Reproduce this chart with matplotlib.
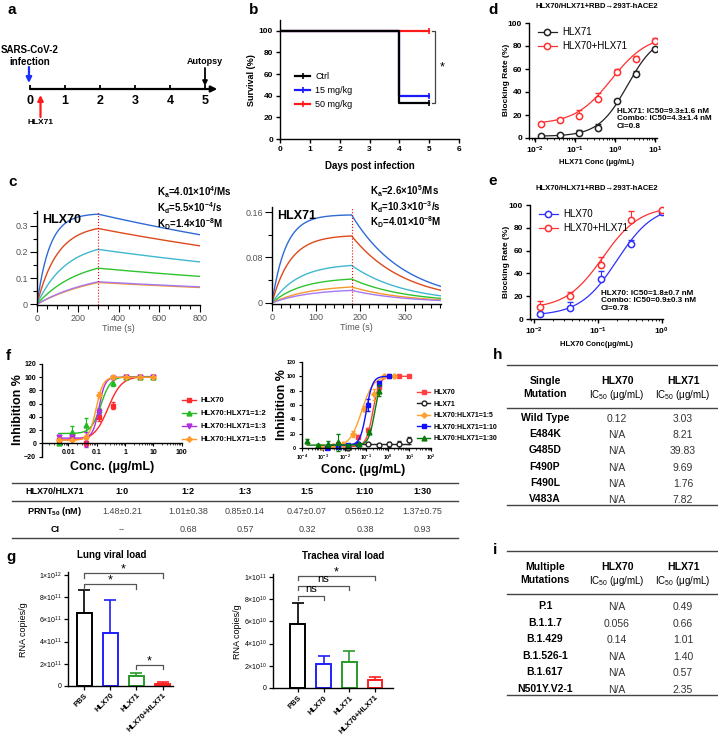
import numpy as np
import matplotlib
matplotlib.use('Agg')
import matplotlib.pyplot as plt
from matplotlib.lines import Line2D
from matplotlib.ticker import FixedLocator, MultipleLocator, LogLocator, NullFormatter, FuncFormatter

plt.rcParams['font.family'] = ['Liberation Sans', 'DejaVu Sans']
plt.rcParams['mathtext.fontset'] = 'custom'
plt.rcParams['mathtext.rm'] = 'Liberation Sans'
plt.rcParams['mathtext.bf'] = 'Liberation Sans:bold'
plt.rcParams['mathtext.it'] = 'Liberation Sans:italic'
plt.rcParams['mathtext.default'] = 'regular'
plt.rcParams['axes.linewidth'] = 1.0

# ---------------- data ----------------
# a: timeline
timeline_days = [0, 1, 2, 3, 4, 5]

# b: survival
surv_days = [0, 4, 5]
surv_ctrl = [100, 33.3, 33.3]
surv_15 = [100, 40, 40]
surv_50 = [100, 100, 100]

# c: sensorgrams (response at end of association, observed on-rate, off-rate)
c_colors = ['#2f6bd6', '#dc4a1c', '#3fb8cf', '#2fc42f', '#f59a2a', '#a678f0']
c70_peak = [0.345, 0.290, 0.210, 0.138, 0.083, 0.086]
c70_kobs = [0.016, 0.010, 0.007, 0.005, 0.0032, 0.0034]
c70_koff = 5.2e-4
c71_peak = [0.155, 0.118, 0.066, 0.042, 0.028, 0.022]
c71_kobs = [0.032, 0.024, 0.017, 0.015, 0.012, 0.012]
c71_koff = 8.3e-3
c70_text = [r'K$_\mathbf{a}$=4.01×10$^\mathbf{4}$/Ms', r'K$_\mathbf{d}$=5.5×10$^\mathbf{-4}$/s',
            r'K$_\mathbf{D}$=1.4×10$^\mathbf{-8}$M']
c71_text = [r'K$_\mathbf{a}$=2.6×10$^\mathbf{5}$/Ms', r'K$_\mathbf{d}$=10.3×10$^\mathbf{-3}$/s',
            r'K$_\mathbf{D}$=4.01×10$^\mathbf{-8}$M']

# d: blocking, HLX71 titration
d_conc = [0.0137, 0.041, 0.123, 0.37, 1.11, 3.33, 10]
d_hlx71 = [2, 2.5, 4, 8.5, 32, 56, 77]
d_hlx71_err = [1, 1, 3, 4, 2, 2, 1]
d_combo = [12, 16, 19, 34, 57, 69, 84]
d_combo_err = [1, 1, 5, 5, 3, 2, 3]
d_fit_hlx71 = (1.5, 90, 2.0, 1.2)   # bottom, top, IC50, hill
d_fit_combo = (12, 90, 0.8, 0.95)

# e: blocking, HLX70 titration
e_conc = [0.0123, 0.037, 0.111, 0.333, 1.0]
e_hlx70 = [4, 9.5, 35, 66, 94]
e_hlx70_err = [2, 5, 7, 3, 2]
e_combo = [10.5, 20, 47, 86.5, 95.5]
e_combo_err = [5, 4, 7, 8, 1]
e_fit_hlx70 = (3, 100, 0.2, 1.5)
e_fit_combo = (9, 99, 0.12, 1.5)

# f left: neutralisation
fl_conc = [0.0046, 0.0137, 0.041, 0.123, 0.37, 1.11, 3.33, 10]
fl_hlx70 = [5, 12, 0, 40, 57, 100, 100, 100]
fl_hlx70_err = [3, 3, 4, 6, 5, 1, 1, 1]
fl_r12 = [0, 18, 28, 50, 92, 100, 100, 100]
fl_r12_err = [1, 9, 10, 4, 5, 2, 1, 1]
fl_r13 = [10, 10, 6, 48, 99, 100, 100, 100]
fl_r13_err = [2, 2, 12, 4, 2, 1, 1, 1]
fl_r15 = [5, 5, 10, 73, 100, 100, 100, 100]
fl_r15_err = [2, 2, 3, 4, 1, 1, 1, 1]
fl_fits = [(5, 101, 0.25, 1.8), (15, 101, 0.14, 2.5), (8, 100, 0.12, 4.0), (5, 100, 0.095, 3.5)]

# f right
fr_conc_70 = [0.0046, 0.0137, 0.041, 0.123, 0.37, 1.11, 3.33, 10]
fr_hlx70 = [5, 2, 15, 25, 85, 100, 100, 100]
fr_hlx70_err = [2, 2, 3, 3, 4, 1, 1, 1]
fr_conc_71 = [0.0137, 0.041, 0.123, 0.37, 1.11, 3.33, 10]
fr_hlx71 = [0, 5, 5, 4, 5, 5, 11]
fr_hlx71_err = [1, 1, 1, 2, 3, 5, 5]
fr_hlx71_level = 5
fr_conc_15 = [0.00091, 0.0027, 0.0082, 0.025, 0.074, 0.22, 0.67, 2.0]
fr_r15 = [2, 3, 5, 20, 55, 75, 100, 100]
fr_r15_err = [1, 2, 2, 4, 4, 8, 1, 1]
fr_conc_110 = [0.0015, 0.0046, 0.0137, 0.041, 0.123, 0.37, 1.11]
fr_r110 = [0, 2, 4, 5, 60, 90, 100]
fr_r110_err = [1, 2, 2, 2, 8, 3, 1]
fr_conc_130 = [0.00018, 0.00055, 0.0017, 0.0049, 0.0148, 0.044, 0.13, 0.40]
fr_r130 = [10, 4, 6, 8, 3, 5, 22, 80]
fr_r130_err = [3, 2, 4, 12, 2, 2, 3, 8]
fr_fits = {'70': (2, 100, 0.2, 2.8), '15': (2, 100, 0.06, 1.6),
           '110': (4, 100, 0.1, 3.0), '130': (4, 100, 0.25, 3.0)}

# f table
f_ratio = ['1:0', '1:2', '1:3', '1:5', '1:10', '1:30']
f_prnt = ['1.48±0.21', '1.01±0.38', '0.85±0.14', '0.47±0.07', '0.56±0.12', '1.37±0.75']
f_ci = ['--', '0.68', '0.57', '0.32', '0.38', '0.93']

# g: viral load
g_groups = ['PBS', 'HLX70', 'HLX71', 'HLX70+HLX71']
g_colors = ['black', '#1f1fff', '#2a9a2a', '#ff2020']
lung_mean = [6.6e11, 4.75e11, 0.9e11, 0.18e11]
lung_err = [2.1e11, 3.05e11, 0.25e11, 0.12e11]
lung_sig = [(0, 2, 9.2e11, '*'), (0, 3, 1.02e12, '*'), (2, 3, 1.88e11, '*')]
trachea_mean = [5.75e10, 2.2e10, 2.3e10, 0.7e10]
trachea_err = [1.9e10, 0.7e10, 1.0e10, 0.25e10]
trachea_sig = [(0, 1, 8.3e10, 'ns'), (0, 2, 9.2e10, 'ns'), (0, 3, 1.01e11, '*')]

# h / i tables
h_mut = ['Wild Type', 'E484K', 'G485D', 'F490P', 'F490L', 'V483A']
h_70 = ['0.12', 'N/A', 'N/A', 'N/A', 'N/A', 'N/A']
h_71 = ['3.03', '8.21', '39.83', '9.69', '1.76', '7.82']
i_mut = ['P.1', 'B.1.1.7', 'B.1.429', 'B.1.526-1', 'B.1.617', 'N501Y.V2-1']
i_70 = ['N/A', '0.056', '0.14', 'N/A', 'N/A', 'N/A']
i_71 = ['0.49', '0.66', '1.01', '1.40', '0.57', '2.35']

# ---------------- helpers ----------------
W, H = 718, 742
fig = plt.figure(figsize=(W / 100, H / 100), dpi=100)


def box(l, t, r, b):
    return [l / W, 1 - b / H, (r - l) / W, (b - t) / H]


def ftext(x, y, s, **kw):
    kw.setdefault('ha', 'center')
    kw.setdefault('va', 'center')
    fig.text(x / W, 1 - y / H, s, **kw)


def hline(x0, x1, y, lw=1.0, color='#444444'):
    fig.add_artist(Line2D([x0 / W, x1 / W], [1 - y / H, 1 - y / H], color=color, lw=lw))


def fourpl(x, p):
    bottom, top, ic50, hill = p
    x = np.asarray(x, float)
    return bottom + (top - bottom) / (1 + (ic50 / x) ** hill)


def sensor(t, t_end, peak, kobs, koff):
    assoc = peak * (1 - np.exp(-kobs * t)) / (1 - np.exp(-kobs * t_end))
    dis = peak * np.exp(-koff * (t - t_end))
    return np.where(t <= t_end, assoc, dis)


def clean(ax):
    ax.spines['top'].set_visible(False)
    ax.spines['right'].set_visible(False)


def bold_ticks(ax, size):
    for lab in ax.get_xticklabels() + ax.get_yticklabels():
        lab.set_fontweight('bold')
        lab.set_fontsize(size)


# ---------------- panel letters ----------------
for letter, x, y in [('a', 8, 10), ('b', 249, 10), ('d', 488, 10), ('c', 8, 182),
                     ('e', 488, 181), ('f', 6, 356), ('h', 493, 355), ('g', 6, 557), ('i', 493, 550)]:
    ftext(x, y, letter, fontsize=11, fontweight='bold', ha='left')

# ---------------- a ----------------
ax_a = fig.add_axes(box(0, 0, 240, 140))
ax_a.set_xlim(-30 / 35, 210 / 35)
ax_a.set_ylim(140, 0)
ax_a.axis('off')
ax_a.annotate('', xy=(5.35, 89), xytext=(0, 89),
              arrowprops=dict(arrowstyle='-|>', lw=1.6, color='k', mutation_scale=9, shrinkA=0, shrinkB=0))
ax_a.vlines(timeline_days, 84.5, 89, color='k', lw=1.3)
for d in timeline_days:
    ax_a.text(d, 101, str(d), ha='center', va='center', fontsize=9, fontweight='bold')
ax_a.text(0, 56, 'SARS-CoV-2\ninfection', ha='center', va='center', fontsize=7, fontweight='bold', linespacing=1.2)
ax_a.annotate('', xy=(-0.03, 83), xytext=(-0.03, 67),
              arrowprops=dict(arrowstyle='-|>', lw=1.6, color='#1a2fff', mutation_scale=8, shrinkA=0, shrinkB=0))
ax_a.annotate('', xy=(0.3, 95), xytext=(0.3, 117),
              arrowprops=dict(arrowstyle='-|>', lw=1.6, color='#ff1a1a', mutation_scale=8, shrinkA=0, shrinkB=0))
ax_a.text(0.3, 122, 'HLX71', ha='center', va='center', fontsize=6, fontweight='bold')
ax_a.text(5, 62, 'Autopsy', ha='center', va='center', fontsize=6.5, fontweight='bold')
ax_a.annotate('', xy=(5, 86), xytext=(5, 68),
              arrowprops=dict(arrowstyle='-|>', lw=1.3, color='k', mutation_scale=7, shrinkA=0, shrinkB=0))

# ---------------- b ----------------
ax_b = fig.add_axes(box(280, 20, 459, 139))
hb = {}
for vals, col, lab in [(surv_50, '#ff1a1a', '50 mg/kg'), (surv_15, '#1a1aff', '15 mg/kg'),
                       (surv_ctrl, 'black', 'Ctrl')]:
    hb[lab], = ax_b.step(surv_days, vals, where='post', color=col, lw=1.6, marker='|',
                         markevery=[2], ms=5, mew=1.2, label=lab)
ax_b.set_xlim(0, 6)
ax_b.set_ylim(0, 110)
ax_b.set_yticks(range(0, 101, 20))
ax_b.set_xticks(range(0, 7))
clean(ax_b)
ax_b.tick_params(length=3, width=1, pad=2)
bold_ticks(ax_b, 6)
ax_b.legend([hb['Ctrl'], hb['15 mg/kg'], hb['50 mg/kg']], ['Ctrl', '15 mg/kg', '50 mg/kg'],
            loc='upper left', bbox_to_anchor=(0.04, 0.63), frameon=False, fontsize=6.5,
            handlelength=1.6, numpoints=1, labelspacing=0.55, handletextpad=0.6)
ax_b.plot([5.1, 5.2, 5.2, 5.1], [100, 100, 33.3, 33.3], color='#444444', lw=0.9, clip_on=False)
ax_b.text(5.45, 66, '*', ha='center', va='center', fontsize=9)
ftext(251, 80, 'Survival (%)', rotation=90, fontsize=6.5, fontweight='bold')
ftext(370, 166, 'Days post infection', fontsize=7, fontweight='bold')

# ---------------- c ----------------
def sensor_axes(rect, t_max, t_end, peaks, kobs, koff, ylim, ymaj, ymin, xmaj, xmin):
    ax = fig.add_axes(rect)
    t = np.linspace(0, t_max, 801)
    for pk, k, col in zip(peaks, kobs, c_colors):
        ax.plot(t, sensor(t, t_end, pk, k, koff), color=col, lw=1.0)
    ax.axvline(t_end, color='red', ls=':', lw=0.8)
    ax.set_xlim(0, t_max)
    ax.set_ylim(*ylim)
    ax.yaxis.set_major_locator(MultipleLocator(ymaj))
    ax.yaxis.set_minor_locator(MultipleLocator(ymin))
    ax.xaxis.set_major_locator(MultipleLocator(xmaj))
    ax.xaxis.set_minor_locator(MultipleLocator(xmin))
    clean(ax)
    ax.tick_params(which='major', length=5, width=0.8, labelsize=6.5, labelcolor='#555555', pad=1.5)
    ax.tick_params(which='minor', length=3, width=0.8)
    ax.set_xlabel('Time (s)', fontsize=6.5, color='#555555', labelpad=1)
    return ax


ax_c1 = sensor_axes(box(37, 211, 200, 305), 800, 300, c70_peak, c70_kobs, c70_koff,
                    (-0.003, 0.357), 0.1, 0.05, 200, 50)
ax_c1.yaxis.set_major_formatter(FuncFormatter(lambda v, p: '0' if abs(v) < 1e-9 else f'{v:.1f}'))
ax_c1.text(0.03, 0.97, 'HLX70', transform=ax_c1.transAxes, ha='left', va='top', fontsize=9, fontweight='bold')
ax_c2 = sensor_axes(box(272, 207, 441, 304), 382, 180, c71_peak, c71_kobs, c71_koff,
                    (-0.002, 0.169), 0.08, 0.04, 100, 20)
ax_c2.yaxis.set_major_formatter(FuncFormatter(lambda v, p: '0' if abs(v) < 1e-9 else f'{v:.2f}'))
ax_c2.text(0.03, 0.97, 'HLX71', transform=ax_c2.transAxes, ha='left', va='top', fontsize=9, fontweight='bold')

ftext(157, 208, '\n'.join(c70_text), ha='left', fontsize=7, fontweight='bold', linespacing=1.05)
ftext(370, 207, '\n'.join(c71_text), ha='left', fontsize=7, fontweight='bold', linespacing=1.0)

# ---------------- d / e ----------------
def pow10(v, p):
    return r'$\mathbf{10^{%d}}$' % int(round(np.log10(v)))


def block_axes(rect, xlim, conc, ys, errs, fits, cols, labels):
    ax = fig.add_axes(rect)
    xs = np.logspace(np.log10(conc[0]), np.log10(conc[-1]), 200)
    handles = []
    for y, e, p, c in zip(ys, errs, fits, cols):
        ax.plot(xs, fourpl(xs, p), color=c, lw=0.9)
        ax.errorbar(conc, y, yerr=[np.zeros(len(e)), e], fmt='none', ecolor=c, elinewidth=0.8, capsize=2)
        ax.plot(conc, y, 'o', mfc='white', mec=c, mew=1.1, ms=4.5)
        handles.append(Line2D([], [], color=c, lw=0.9, marker='o', mfc='white', mec=c, mew=1.1, ms=4.5))
    ax.set_xscale('log')
    ax.set_xlim(*xlim)
    ax.set_ylim(0, 100)
    ax.set_yticks(range(0, 101, 20))
    ax.xaxis.set_major_locator(LogLocator(base=10, numticks=10))
    ax.xaxis.set_major_formatter(FuncFormatter(pow10))
    ax.xaxis.set_minor_locator(LogLocator(base=10, subs=np.arange(2, 10), numticks=20))
    ax.xaxis.set_minor_formatter(NullFormatter())
    clean(ax)
    ax.tick_params(which='major', length=3, width=1, pad=2)
    ax.tick_params(which='minor', length=1.5, width=0.6)
    bold_ticks(ax, 6)
    ax.legend(handles, labels, loc='upper left', bbox_to_anchor=(0.0, 1.04), frameon=False,
              fontsize=7, handlelength=2.0, labelspacing=0.4, handletextpad=0.5)
    return ax


ax_d = block_axes(box(529, 23, 657, 138), (10 ** -2.16, 10 ** 1.04), d_conc, [d_hlx71, d_combo],
                  [d_hlx71_err, d_combo_err], [d_fit_hlx71, d_fit_combo], ['#222222', '#ff3030'],
                  ['HLX71', 'HLX70+HLX71'])
ftext(597, 7, 'HLX70/HLX71+RBD→293T-hACE2', fontsize=5.5, fontweight='bold')
ftext(507, 80, 'Blocking Rate (%)', rotation=90, fontsize=6, fontweight='bold')
ftext(597, 163, 'HLX71 Conc (μg/mL)', fontsize=5.5, fontweight='bold')
ftext(617, 119, 'HLX71: IC50=9.3±1.6 nM\nCombo: IC50=4.3±1.4 nM\nCI=0.8', ha='left', fontsize=5.8,
      fontweight='bold', linespacing=1.1)

ax_e = block_axes(box(530, 205, 663, 319), (10 ** -2.06, 10 ** 0.02), e_conc, [e_hlx70, e_combo],
                  [e_hlx70_err, e_combo_err], [e_fit_hlx70, e_fit_combo], ['#3030ff', '#ff3030'],
                  ['HLX70', 'HLX70+HLX71'])
ftext(597, 188, 'HLX70/HLX71+RBD→293T-hACE2', fontsize=5.5, fontweight='bold')
ftext(507, 262, 'Blocking Rate (%)', rotation=90, fontsize=6, fontweight='bold')
ftext(597, 344, 'HLX70 Conc(μg/mL)', fontsize=5.5, fontweight='bold')
ftext(601, 301, 'HLX70: IC50=1.8±0.7 nM\nCombo: IC50=0.9±0.3 nM\nCI=0.78', ha='left', fontsize=5.8,
      fontweight='bold', linespacing=1.1)

# ---------------- f ----------------
def neut_axes(rect, xlim, ylow):
    ax = fig.add_axes(rect)
    ax.set_xscale('log')
    ax.set_xlim(*xlim)
    ax.set_ylim(ylow, 120)
    ax.set_yticks(range(ylow, 121, 20))
    ax.spines['bottom'].set_position(('data', 0))
    clean(ax)
    ax.xaxis.set_minor_locator(LogLocator(base=10, subs=np.arange(2, 10), numticks=30))
    ax.xaxis.set_minor_formatter(NullFormatter())
    ax.tick_params(which='major', length=2.5, width=0.8, pad=1.5)
    ax.tick_params(which='minor', length=1.5, width=0.5)
    return ax


def neut_series(ax, conc, y, err, fit, col, marker, mfc=None):
    handle = Line2D([], [], color=col, lw=1.0, marker=marker, ms=3.5, mfc=mfc or col, mec=col)
    if fit is not None:
        xs = np.logspace(np.log10(conc[0]), np.log10(conc[-1]), 200)
        ax.plot(xs, fourpl(xs, fit), color=col, lw=1.0)
    ax.errorbar(conc, y, yerr=err, fmt='none', ecolor=col, elinewidth=0.8, capsize=1.5, clip_on=False)
    ax.plot(conc, y, ls='none', marker=marker, ms=3.5, mfc=mfc or col, mec=col, clip_on=False)
    return handle


ax_fl = neut_axes(box(41.7, 364, 181.7, 456.7), (10 ** -2.94, 100), -20)
ax_fl.xaxis.set_major_locator(FixedLocator([0.01, 0.1, 1, 10, 100]))
ax_fl.set_xticklabels(['0.01', '0.1', '1', '10', '100'])
fl_series = [(fl_hlx70, fl_hlx70_err, '#ff2a2a', 's', 'HLX70'),
             (fl_r12, fl_r12_err, '#22bb22', '^', 'HLX70:HLX71=1:2'),
             (fl_r13, fl_r13_err, '#b030e0', 'v', 'HLX70:HLX71=1:3'),
             (fl_r15, fl_r15_err, '#ff9a2a', 'P', 'HLX70:HLX71=1:5')]
hl = []
for (y, e, c, m, lab), fit in zip(fl_series, fl_fits):
    hl.append(neut_series(ax_fl, fl_conc, y, e, fit, c, m))
bold_ticks(ax_fl, 5)
ax_fl.legend(hl, [s[4] for s in fl_series], loc='upper left', bbox_to_anchor=(175 / W, 1 - 390 / H),
             bbox_transform=fig.transFigure, frameon=False, handlelength=1.8, labelspacing=0.75,
             handletextpad=0.6, prop=dict(size=5.5, weight='bold'))
ftext(18, 410, 'Inhibition %', rotation=90, fontsize=9, fontweight='bold')
ftext(112, 467, 'Conc. (μg/mL)', fontsize=9, fontweight='bold')

ax_fr = neut_axes(box(301.7, 362, 431, 448), (10 ** -4, 100), 0)
ax_fr.xaxis.set_major_locator(FixedLocator([10.0 ** k for k in range(-4, 3)]))
ax_fr.xaxis.set_major_formatter(FuncFormatter(lambda v, p: r'$10^{%d}$' % int(round(np.log10(v)))))
hr = [neut_series(ax_fr, fr_conc_70, fr_hlx70, fr_hlx70_err, fr_fits['70'], '#ff4040', 's')]
ax_fr.plot([fr_conc_71[0], fr_conc_71[-1]], [fr_hlx71_level] * 2, color='#222222', lw=1.0)
hr.append(neut_series(ax_fr, fr_conc_71, fr_hlx71, fr_hlx71_err, None, '#222222', 'o', mfc='white'))
hr.append(neut_series(ax_fr, fr_conc_15, fr_r15, fr_r15_err, fr_fits['15'], '#ffa030', 'P'))
hr.append(neut_series(ax_fr, fr_conc_110, fr_r110, fr_r110_err, fr_fits['110'], '#1010ff', 's'))
hr.append(neut_series(ax_fr, fr_conc_130, fr_r130, fr_r130_err, fr_fits['130'], '#0a7a0a', '^'))
bold_ticks(ax_fr, 4)
for lab in ax_fr.get_xticklabels():
    lab.set_fontsize(3.8)
ax_fr.tick_params(axis='x', which='major', pad=0.8)
ax_fr.legend(hr, ['HLX70', 'HLX71', 'HLX70:HLX71=1:5', 'HLX70:HLX71=1:10', 'HLX70:HLX71=1:30'],
             loc='upper left', bbox_to_anchor=(411 / W, 1 - 383 / H), bbox_transform=fig.transFigure,
             frameon=False, handlelength=1.8, labelspacing=0.65, handletextpad=0.6,
             prop=dict(size=5, weight='bold'))
ftext(282, 405, 'Inhibition %', rotation=90, fontsize=9, fontweight='bold')
ftext(363, 470, 'Conc. (μg/mL)', fontsize=9, fontweight='bold')

# f table
f_cols = [55, 122, 188, 245, 307, 365, 422]
hline(12, 458, 483)
hline(12, 458, 501)
hline(12, 458, 538)
ftext(f_cols[0], 492, 'HLX70/HLX71', fontsize=6.5, fontweight='bold')
ftext(f_cols[0], 512, r'PRNT$_{\mathbf{50}}$ (nM)', fontsize=6.5, fontweight='bold')
ftext(f_cols[0], 530, 'CI', fontsize=6.5, fontweight='bold')
for j in range(6):
    ftext(f_cols[j + 1], 492, f_ratio[j], fontsize=6.5, fontweight='bold')
    ftext(f_cols[j + 1], 512, f_prnt[j], fontsize=6.5, color='#444444')
    ftext(f_cols[j + 1], 530, f_ci[j], fontsize=6.5, color='#444444')

# ---------------- g ----------------
def load_axes(rect, xlim, ymax, means, errs, sig, ticks, ticklabels, tick_len):
    ax = fig.add_axes(rect)
    x = np.arange(len(means))
    ax.bar(x, means, width=0.58, color='white', edgecolor=g_colors, linewidth=1.4, zorder=2)
    for xi, m, e, c in zip(x, means, errs, g_colors):
        ax.errorbar([xi], [m], yerr=[[0], [e]], fmt='none', ecolor=c, elinewidth=1.2, capsize=4,
                    capthick=1.2, zorder=1)
    for a, b, yv, s in sig:
        ax.plot([a, a, b, b], [yv - tick_len, yv, yv, yv - tick_len], color='#555555', lw=0.9, clip_on=False)
        ax.text((a + b) / 2, yv + (0.1 if s == 'ns' else -0.2) * tick_len * 3, s, ha='center', va='bottom',
                fontsize=9 if s == '*' else 8, clip_on=False)
    ax.set_xlim(*xlim)
    ax.set_ylim(0, ymax)
    ax.set_yticks(ticks)
    ax.set_yticklabels(ticklabels, fontsize=5)
    ax.set_xticks(x)
    ax.set_xticklabels(g_groups, rotation=45, ha='right', rotation_mode='anchor', fontsize=5.5,
                       fontweight='bold')
    clean(ax)
    ax.tick_params(length=3, width=0.9, pad=1.5)
    return ax


ax_g1 = load_axes(box(68, 572, 173, 685.7), (-0.62, 3.4), 1.03e12, lung_mean, lung_err, lung_sig,
                  [0, 2e11, 4e11, 6e11, 8e11, 1e12],
                  ['0', r'2×10$^{11}$', r'4×10$^{11}$', r'6×10$^{11}$', r'8×10$^{11}$', r'1×10$^{12}$'], 0.04e12)
ax_g2 = load_axes(box(273, 574, 393, 688), (-0.97, 3.7), 1.025e11, trachea_mean, trachea_err, trachea_sig,
                  [0, 2e10, 4e10, 6e10, 8e10, 1e11],
                  ['0', r'2×10$^{10}$', r'4×10$^{10}$', r'6×10$^{10}$', r'8×10$^{10}$', r'1×10$^{11}$'], 0.04e11)
ftext(112, 555, 'Lung viral load', fontsize=7, fontweight='bold')
ftext(343, 556, 'Trachea viral load', fontsize=7, fontweight='bold')
ftext(24, 630, 'RNA copies/g', rotation=90, fontsize=6.5)
ftext(238, 632, 'RNA copies/g', rotation=90, fontsize=6.5)

# ---------------- h / i ----------------
def mut_table(top, header, muts, v70, v71, row0, pitch, bottom):
    cols = [545, 617, 683]
    hline(507, 718, top)
    ftext(cols[0], top + 16, header[0], fontsize=7.5, fontweight='bold')
    ftext(cols[0], top + 29, header[1], fontsize=7.5, fontweight='bold')
    for c, name in zip(cols[1:], ['HLX70', 'HLX71']):
        ftext(c, top + 16, name, fontsize=7.5, fontweight='bold')
        ftext(c, top + 29.5, r'IC$_{50}$ (μg/mL)', fontsize=7)
    hline(507, 718, top + 43)
    for k in range(len(muts)):
        yy = row0 + pitch * k
        ftext(cols[0], yy, muts[k], fontsize=7.5, fontweight='bold')
        ftext(cols[1], yy + 1, v70[k], fontsize=7.5, color='#333333')
        ftext(cols[2], yy + 1, v71[k], fontsize=7.5, color='#333333')
    hline(507, 718, bottom)


mut_table(365, ['Single', 'Mutation'], h_mut, h_70, h_71, 418, 16.2, 505)
mut_table(551, ['Multiple', 'Mutations'], i_mut, i_70, i_71, 606, 16.6, 695)

fig.savefig('out.png', dpi=100)
